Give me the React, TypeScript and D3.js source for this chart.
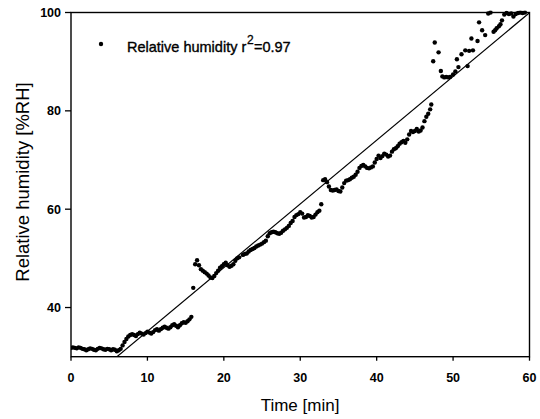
import React from "react";
import * as d3 from "d3";

const times: number[] = [
  0, 0.25, 0.5, 0.75, 1, 1.25, 1.5, 1.75, 2, 2.25, 2.5, 2.75, 3, 3.25, 3.5, 3.75, 4, 4.25, 4.5, 4.75, 5, 5.25, 5.5, 5.75, 6, 6.25, 6.5, 6.75, 7,
  7.25, 7.5, 7.75, 8, 8.25, 8.5, 8.75, 9, 9.25, 9.5, 9.75, 10, 10.25, 10.5, 10.75, 11, 11.25, 11.5, 11.75, 12, 12.25, 12.5, 12.75, 13, 13.25, 13.5, 13.75, 14, 14.25, 14.5, 14.75, 15, 15.25, 15.5, 15.75,
  16, 16.25, 16.5, 16.75, 17, 17.25, 17.5, 17.75, 18, 18.25, 18.5, 18.75, 19, 19.25, 19.5, 19.75, 20, 20.25, 20.5, 20.75, 21, 21.25, 21.5, 21.75, 22, 22.5, 22.75, 23, 23.25, 23.5, 23.75, 24, 24.25, 24.5, 24.75, 25, 25.25, 25.5, 25.75, 26, 26.25, 26.5, 26.75, 27, 27.25, 27.5, 27.75, 28, 28.25, 28.5, 28.75, 29, 29.25, 29.5, 29.75, 30, 30.25, 30.5, 30.75, 31, 31.25, 31.5, 31.75, 32, 32.25, 32.5, 32.75,
  33, 33.25, 33.5, 33.75, 34, 34.25, 34.5, 34.75, 35, 35.25, 35.5, 35.75, 36, 36.25, 36.5, 36.75, 37, 37.25, 37.5, 37.75, 38, 38.25, 38.5, 38.75, 39, 39.25, 39.5, 39.75, 40, 40.25, 40.5, 40.75, 41, 41.25, 41.5, 41.75, 42, 42.25, 42.5, 42.75, 43, 43.25, 43.5, 43.75, 44, 44.25, 44.5, 44.75, 45, 45.25, 45.5, 45.75, 46, 46.25, 46.5, 46.75, 47, 47.15,
  47.4, 47.6, 48.1, 48.4, 48.6, 48.85, 49.1, 49.35, 49.6, 50, 50.3, 50.5, 50.7, 51.1, 51.6, 51.9, 52.1, 52.4, 52.6, 53.2, 53.4, 53.8, 54.2, 54.6, 54.9, 55.3, 55.5, 55.7, 56, 56.2, 56.4, 56.7, 57, 57.3, 57.6, 57.9, 58.2, 58.5, 58.8, 59.1, 59.4,
];

const humidity: number[] = [
  31.8, 31.9, 31.8, 31.7, 31.9, 31.8, 31.6, 31.5, 31.3, 31.5, 31.7, 31.6, 31.4, 31.3, 31.6, 31.8, 31.7, 31.5, 31.4, 31.6, 31.5, 31.3, 31.5, 31.4, 31.1, 31.3, 31.6, 32.3, 33.0,
  33.6, 34.1, 34.4, 34.6, 34.4, 34.2, 34.6, 34.9, 34.7, 34.5, 34.8, 35.1, 34.9, 34.7, 35.0, 35.4, 35.6, 35.3, 35.6, 35.9, 36.1, 35.9, 35.7, 36.0, 36.4, 36.6, 36.3, 36.0, 36.4, 36.8, 37.0, 36.9, 37.2, 37.6, 38.1,
  44.0, 48.8, 49.6, 48.6, 47.8, 47.5, 47.2, 46.9, 46.5, 46.1, 46.0, 46.4, 47.0, 47.5, 48.1, 48.4, 48.8, 49.1, 48.6, 48.3, 48.5, 48.8, 49.5, 50.0, 50.2, 50.7, 50.9, 51.0, 51.4, 51.7, 51.9, 52.1, 52.4, 52.6, 52.8, 53.0, 53.3, 53.6, 54.5, 55.1, 55.3, 55.4, 55.3, 55.1, 55.0, 55.2, 55.6, 55.9, 56.2, 56.6, 57.2, 57.6, 58.4, 58.8, 59.0, 59.4, 59.1, 58.3, 58.4, 58.8, 58.6, 58.3, 58.4, 58.9, 59.4, 59.7, 61.0,
  65.9, 66.1, 65.5, 64.6, 63.9, 63.8, 63.9, 64.0, 63.7, 63.6, 64.4, 65.3, 65.8, 65.9, 66.1, 66.4, 66.6, 67.0, 67.6, 68.4, 68.8, 69.0, 68.7, 68.4, 68.3, 68.5, 68.7, 69.5, 70.2, 70.9, 70.4, 70.8, 71.3, 71.1, 70.7, 70.9, 71.7, 72.2, 72.4, 72.8, 73.3, 73.6, 73.9, 73.5, 74.2, 75.2, 75.9, 75.7, 75.9, 76.3, 75.8, 76.0, 76.6, 77.9, 78.8, 79.4, 80.3, 81.3,
  90.1, 93.9, 91.9, 88.1, 87.0, 86.8, 86.9, 86.8, 86.9, 87.4, 88.0, 90.5, 88.9, 91.5, 92.3, 89.1, 92.2, 94.7, 92.3, 94.2, 98.0, 96.4, 95.4, 99.8, 100.0, 96.1, 96.4, 96.8, 97.2, 97.6, 98.4, 99.6, 99.9, 99.7, 99.8, 99.2, 99.7, 99.9, 100.0, 99.9, 100.0,
];

const fitSlope = 1.296;
const fitIntercept = 22.2;
const xTicks: number[] = [0, 10, 20, 30, 40, 50, 60];
const yTicks: number[] = [40, 60, 80, 100];

export default function App() {
  const W = 540;
  const H = 419;
  const x = d3.scaleLinear().domain([0, 60]).range([71, 529.5]);
  const y = d3.scaleLinear().domain([30, 100]).range([356.7, 12.5]);
  const font = "'Liberation Sans', Arial, sans-serif";

  const tStart = (30 - fitIntercept) / fitSlope;
  const fitPts: [number, number][] = [
    [tStart, 30],
    [60, fitSlope * 60 + fitIntercept],
  ];
  const line = d3
    .line<[number, number]>()
    .x((d) => x(d[0]))
    .y((d) => y(d[1]));

  const [x0, x1] = x.range();
  const [y0, y1] = y.range();

  return (
    <svg
      width={W}
      height={H}
      style={{ position: "absolute", left: 0, top: 0, background: "#fff" }}
    >
      <defs>
        <clipPath id="plot">
          <rect x={x0} y={y1 - 2} width={x1 - x0} height={y0 - y1 + 2} />
        </clipPath>
      </defs>
      <rect x={0} y={0} width={W} height={H} fill="#fff" />
      {/* frame */}
      <rect
        x={x0}
        y={y1}
        width={x1 - x0}
        height={y0 - y1}
        fill="none"
        stroke="#000"
        strokeWidth={1.4}
      />
      {/* x ticks */}
      {xTicks.map((t) => (
        <g key={"xt" + t}>
          <line x1={x(t)} x2={x(t)} y1={y0} y2={y0 + 4} stroke="#000" strokeWidth={1.3} />
          <text
            x={x(t)}
            y={382}
            textAnchor="middle"
            fontFamily={font}
            fontSize={12.5}
            fontWeight="bold"
          >
            {t}
          </text>
        </g>
      ))}
      {/* y ticks */}
      {yTicks.map((v) => (
        <g key={"yt" + v}>
          <line x1={x0 - 6} x2={x0} y1={y(v)} y2={y(v)} stroke="#000" strokeWidth={1.3} />
          <text
            x={x0 - 10}
            y={y(v) + 4.5}
            textAnchor="end"
            fontFamily={font}
            fontSize={12.5}
            fontWeight="bold"
          >
            {v}
          </text>
        </g>
      ))}
      {/* fit line */}
      <path
        d={line(fitPts) || ""}
        fill="none"
        stroke="#000"
        strokeWidth={1.2}
        clipPath="url(#plot)"
      />
      {/* points */}
      <g clipPath="url(#plot)">
        {times.map((t, i) => (
          <circle key={i} cx={x(t)} cy={y(humidity[i])} r={2.2} fill="#000" />
        ))}
      </g>
      {/* legend */}
      <circle cx={101} cy={44} r={2.2} fill="#000" />
      <text x={127} y={52} fontFamily={font} fontSize={14.5} stroke="#000" strokeWidth={0.35}>
        Relative humidity r
      </text>
      <text x={247} y={44} fontFamily={font} fontSize={12} stroke="#000" strokeWidth={0.3}>
        2
      </text>
      <text x={254} y={52} fontFamily={font} fontSize={14.5} stroke="#000" strokeWidth={0.35}>
        =0.97
      </text>
      {/* axis titles */}
      <text
        x={300}
        y={411}
        textAnchor="middle"
        fontFamily={font}
        fontSize={17}
      >
        Time [min]
      </text>
      <text
        transform={`translate(29,182) rotate(-90)`}
        textAnchor="middle"
        fontFamily={font}
        fontSize={18.5}
      >
        Relative humidity [%RH]
      </text>
    </svg>
  );
}
